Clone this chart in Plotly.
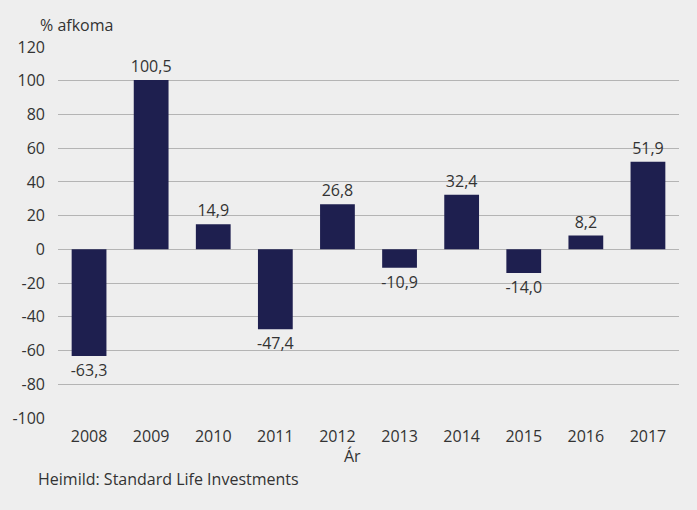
import plotly.graph_objects as go

years = ["2008", "2009", "2010", "2011", "2012", "2013", "2014", "2015", "2016", "2017"]
returns = [-63.3, 100.5, 14.9, -47.4, 26.8, -10.9, 32.4, -14.0, 8.2, 51.9]
labels = [f"{v:.1f}".replace(".", ",") for v in returns]
y_ticks = [-100, -80, -60, -40, -20, 0, 20, 40, 60, 80, 100, 120]

BG = "#eeeeee"
FONT = "Open Sans"
TXT = "#333333"
FS = 16

W, H = 697, 510
l, r, t, b = 56, 18, 47, 92
pw, ph = W - l - r, H - t - b
def px(xp): return (xp - l) / pw
def py(yp): return (H - b - yp) / ph

fig = go.Figure(go.Bar(
    x=years, y=returns, text=labels, textposition="outside",
    constraintext="none",
    textfont=dict(family=FONT, size=FS, color=TXT),
    marker=dict(color="#1e1f4f", line=dict(width=0)),
    cliponaxis=False,
))

fig.update_layout(
    width=W, height=H,
    paper_bgcolor=BG, plot_bgcolor=BG,
    margin=dict(l=l, r=r, t=t, b=b),
    bargap=0.44,
    showlegend=False,
    font=dict(family=FONT, size=FS, color=TXT),
    xaxis=dict(showgrid=False, showline=False, ticks="", ticklabelstandoff=7,
               tickfont=dict(size=FS, color=TXT)),
    yaxis=dict(range=[-100, 120], tickvals=y_ticks,
               ticktext=[str(tv) for tv in y_ticks],
               showgrid=True, gridcolor="#b4b4b4", gridwidth=1,
               zeroline=True, zerolinecolor="#b4b4b4", zerolinewidth=1,
               showline=False, ticks="", ticklabelstandoff=12,
               tickfont=dict(size=FS, color=TXT)),
)

fig.add_annotation(text="% afkoma", x=px(36), y=py(25), xref="paper", yref="paper",
                   xanchor="left", yanchor="middle", showarrow=False,
                   font=dict(family=FONT, size=FS, color=TXT))
fig.add_annotation(text="Ár", x=px(351), y=py(456), xref="paper", yref="paper",
                   xanchor="center", yanchor="middle", showarrow=False,
                   font=dict(family=FONT, size=FS, color=TXT))
fig.add_annotation(text="Heimild: Standard Life Investments", x=px(34), y=py(479),
                   xref="paper", yref="paper", xanchor="left", yanchor="middle",
                   showarrow=False, font=dict(family=FONT, size=FS, color=TXT))

fig.write_html("out.html", config={"displayModeBar": False},
               post_script="document.body.style.margin='0';")
